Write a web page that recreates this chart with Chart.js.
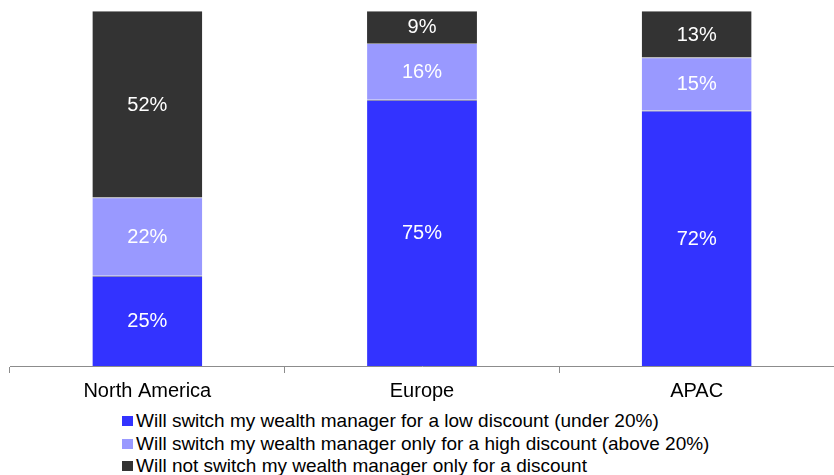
<!DOCTYPE html>
<html>
<head>
<meta charset="utf-8">
<script src="https://cdn.jsdelivr.net/npm/chart.js@4/dist/chart.umd.min.js"></script>
<style>
  html, body { margin: 0; padding: 0; background: #fff; }
  #wrap { position: relative; width: 834px; height: 475px; }
  #chartBox { position: absolute; left: 0; top: 0; width: 834px; height: 409px; }
  #legend { position: absolute; left: 122px; top: 410px; font-family: "Liberation Sans", Arial, sans-serif; font-size: 19px; color: #000; }
  #legend div { height: 22.5px; line-height: 22.5px; white-space: nowrap; }
  #legend span { display: inline-block; width: 11px; height: 10px; margin-right: 3px; vertical-align: 1px; }
</style>
</head>
<body>
<div id="wrap">
  <div id="chartBox"><canvas id="myChart"></canvas></div>
  <div id="legend"></div>
</div>
<script>
// Data for the chart (shares in %, labels shown rounded)
const regions = ['North America', 'Europe', 'APAC'];
const lowDiscount = [25.45, 75, 72];
const highDiscount = [22.1, 16, 15];
const noSwitch = [52.45, 9, 13];
const seriesNames = [
    'Will switch my wealth manager for a low discount (under 20%)',
    'Will switch my wealth manager only for a high discount (above 20%)',
    'Will not switch my wealth manager only for a discount'
];
const seriesColors = ['#3333ff', '#9999ff', '#333333'];

// Draws the percentage text in the middle of each segment
const segmentLabels = {
    id: 'segmentLabels',
    afterDatasetsDraw(chart) {
        const ctx = chart.ctx;
        ctx.save();
        ctx.font = '20px "Liberation Sans", Arial, sans-serif';
        ctx.fillStyle = '#ffffff';
        ctx.textAlign = 'center';
        ctx.textBaseline = 'middle';
        chart.data.datasets.forEach((ds, i) => {
            chart.getDatasetMeta(i).data.forEach((bar, j) => {
                const mid = (bar.y + bar.base) / 2;
                ctx.fillText(Math.round(ds.data[j]) + '%', bar.x, mid + 1);
            });
        });
        ctx.restore();
    }
};

const ctx = document.getElementById('myChart').getContext('2d');
const chart = new Chart(ctx, {
    type: 'bar',
    data: {
        labels: regions,
        datasets: [lowDiscount, highDiscount, noSwitch].map((vals, i) => ({
            label: seriesNames[i],
            data: vals,
            backgroundColor: seriesColors[i],
            borderColor: '#8c8c8c',
            borderWidth: { top: 1 },
            borderSkipped: false,
            categoryPercentage: 1,
            barPercentage: 0.4
        }))
    },
    options: {
        responsive: true,
        maintainAspectRatio: false,
        animation: false,
        layout: { padding: { top: 11, left: 10, right: 0, bottom: 0 } },
        plugins: {
            legend: { display: false },
            tooltip: { enabled: false }
        },
        scales: {
            x: {
                stacked: true,
                grid: {
                    offset: true,
                    drawOnChartArea: false,
                    drawTicks: true,
                    tickLength: 7,
                    color: '#8c8c8c'
                },
                border: { color: '#8c8c8c' },
                ticks: {
                    color: '#000',
                    padding: 6,
                    font: { family: '"Liberation Sans", Arial, sans-serif', size: 20 }
                }
            },
            y: {
                stacked: true,
                display: false,
                min: 0,
                max: 100
            }
        }
    },
    plugins: [segmentLabels]
});

// Legend below the chart
const legend = document.getElementById('legend');
seriesNames.forEach((name, i) => {
    const row = document.createElement('div');
    const sw = document.createElement('span');
    sw.style.background = seriesColors[i];
    row.appendChild(sw);
    row.appendChild(document.createTextNode(name));
    legend.appendChild(row);
});
</script>
</body>
</html>
